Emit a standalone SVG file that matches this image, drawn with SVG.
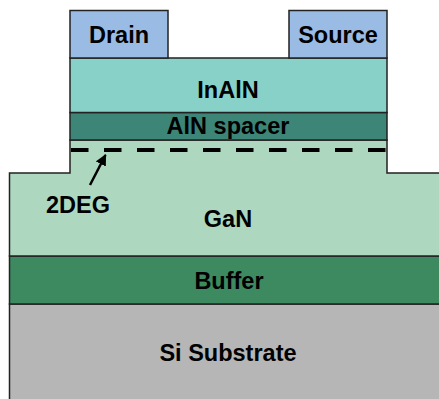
<svg xmlns="http://www.w3.org/2000/svg" width="439" height="399" viewBox="0 0 439 399">
<style>
.l{stroke:#222;stroke-width:1.5}
.t{font-family:"Liberation Sans",Arial,Helvetica,sans-serif;font-weight:bold;font-size:23.5px;fill:#000;text-anchor:middle}
</style>
<defs>
<marker id="ah" viewBox="0 0 10 10" refX="9" refY="5" markerWidth="4.5" markerHeight="4.5" orient="auto" markerUnits="strokeWidth">
<path d="M0,0 L10,5 L0,10 Z" fill="#000"/>
</marker>
</defs>
<rect width="439" height="399" fill="#fff"/>
<g id="si-substrate">
<rect class="l" x="9.5" y="304" width="432" height="100" fill="#b6b6b6"/>
<text class="t" x="228" y="361">Si Substrate</text>
</g>
<g id="buffer">
<rect class="l" x="9.5" y="256" width="432" height="48" fill="#3d8a60"/>
<text class="t" x="229" y="289">Buffer</text>
</g>
<g id="gan">
<path class="l" d="M70,140 V173 H9.5 V256 H441 V173 H387 V140 Z" fill="#add8bf"/>
<text class="t" x="228" y="227">GaN</text>
</g>
<g id="aln-spacer">
<rect class="l" x="70" y="112.5" width="317" height="27.5" fill="#3d8577"/>
<text class="t" x="228" y="134">AlN spacer</text>
</g>
<g id="inaln">
<rect class="l" x="70" y="58" width="317" height="54.5" fill="#87d1c9"/>
<text class="t" x="228" y="97.5">InAlN</text>
</g>
<g id="drain">
<rect class="l" x="70" y="10.5" width="98" height="47.5" fill="#9abce4"/>
<text class="t" x="119" y="43">Drain</text>
</g>
<g id="source">
<rect class="l" x="289" y="10.5" width="98" height="47.5" fill="#9abce4"/>
<text class="t" x="338" y="43">Source</text>
</g>
<g id="twodeg">
<line x1="71" y1="150" x2="386" y2="150" stroke="#000" stroke-width="4" stroke-dasharray="17.5 15.5"/>
<text class="t" x="78" y="213">2DEG</text>
</g>
<g id="connectors">
<line x1="90" y1="185" x2="105.5" y2="155" stroke="#000" stroke-width="2.5" marker-end="url(#ah)"/>
</g>
</svg>
